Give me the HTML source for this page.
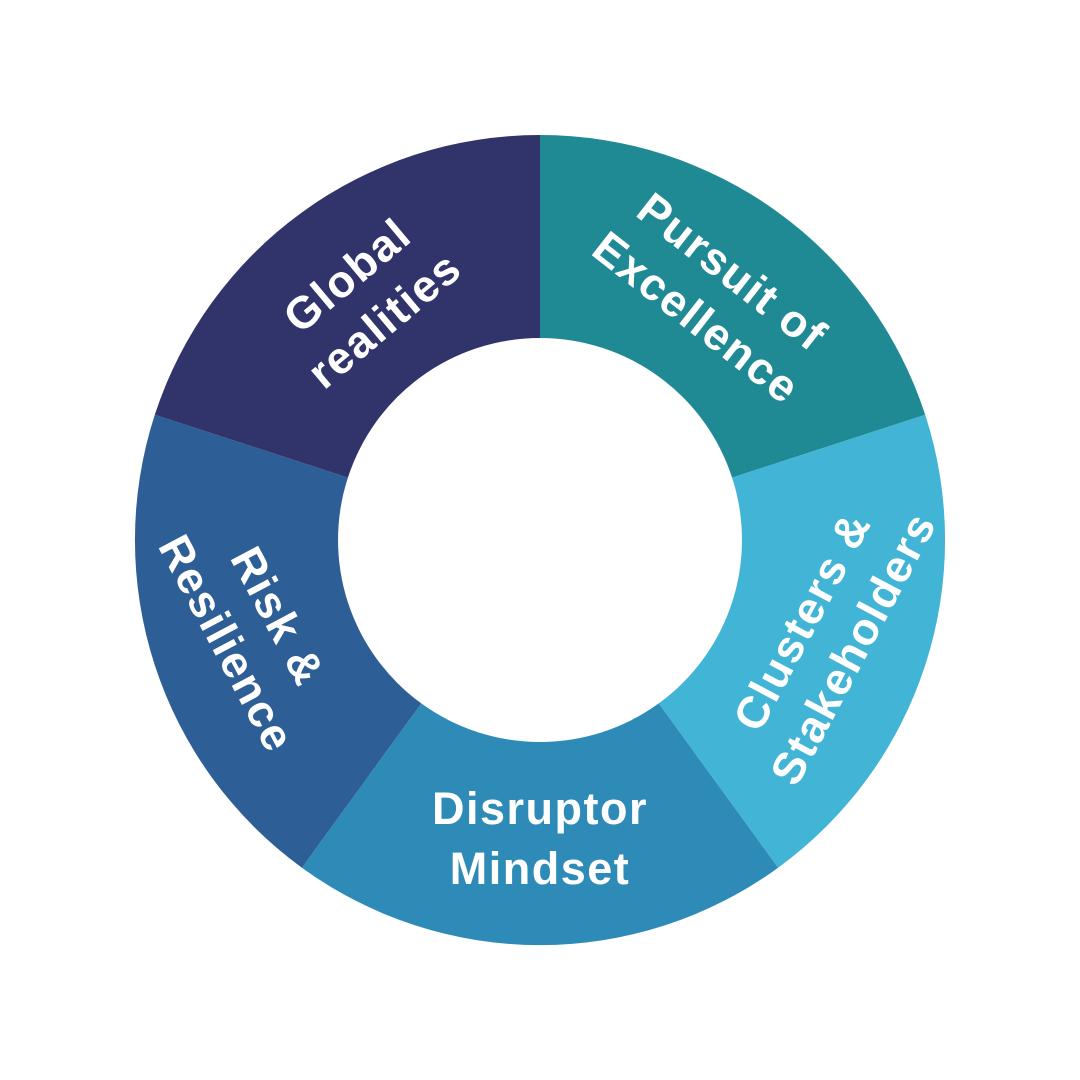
<!DOCTYPE html>
<html><head><meta charset="utf-8"><style>html,body{margin:0;padding:0;background:#fff}svg{display:block}</style></head>
<body>
<svg width="1080" height="1080" viewBox="0 0 1080 1080" xmlns="http://www.w3.org/2000/svg">
<path d="M540 135 A405 405 0 0 1 925.2 414.8 L732.1 477.6 A202 202 0 0 0 540 338 Z" fill="#1f8a93"/>
<path d="M925.2 414.8 A405 405 0 0 1 778.1 867.7 L658.7 703.4 A202 202 0 0 0 732.1 477.6 Z" fill="#42b5d6"/>
<path d="M778.1 867.7 A405 405 0 0 1 301.9 867.7 L421.3 703.4 A202 202 0 0 0 658.7 703.4 Z" fill="#2e8bb8"/>
<path d="M301.9 867.7 A405 405 0 0 1 154.8 414.8 L347.9 477.6 A202 202 0 0 0 421.3 703.4 Z" fill="#2e5e96"/>
<path d="M154.8 414.8 A405 405 0 0 1 540 135 L540 338 A202 202 0 0 0 347.9 477.6 Z" fill="#31336b"/>
<g font-family="'Liberation Sans', sans-serif" font-weight="bold" font-size="45" letter-spacing="1.5" fill="#fff" text-anchor="middle">
<g transform="translate(366,298) rotate(-40)"><text y="-14">Global</text><text y="44">realities</text></g>
<g transform="translate(714,295) rotate(38)"><text y="-14">Pursuit of</text><text y="44">Excellence</text></g>
<g transform="translate(828,635) rotate(-62)"><text y="-14">Clusters &amp;</text><text y="44">Stakeholders</text></g>
<g transform="translate(540,838)"><text y="-14">Disruptor</text><text y="46">Mindset</text></g>
<g transform="translate(252,630) rotate(62)"><text y="-14">Risk &amp;</text><text y="44">Resilience</text></g>
</g>
</svg>
</body></html>
